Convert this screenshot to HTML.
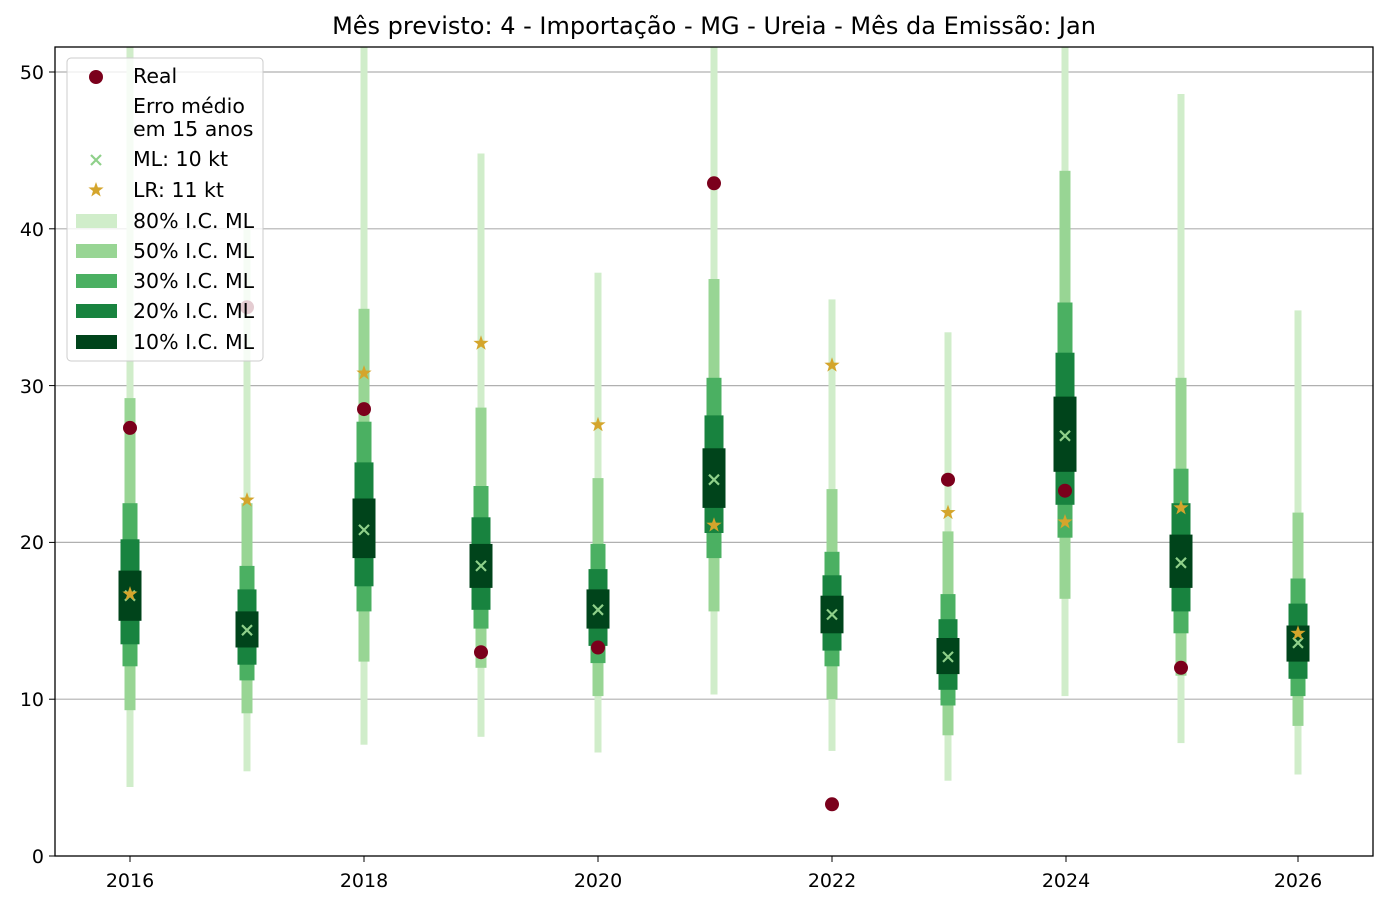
<!DOCTYPE html>
<html><head><meta charset="utf-8"><style>body{margin:0;background:#fff}svg{display:block;font-family:"DejaVu Sans","Liberation Sans",sans-serif}</style></head>
<body>
<svg width="1387" height="906" xmlns="http://www.w3.org/2000/svg">
<defs>
<clipPath id="c"><rect x="55" y="47" width="1318" height="809"/></clipPath>
<polygon id="st" points="0,-8 1.88,-2.59 7.61,-2.47 3.04,0.99 4.70,6.47 0,3.2 -4.70,6.47 -3.04,0.99 -7.61,-2.47 -1.88,-2.59" fill="#d4a52c"/>
<path id="mx" d="M-5,-5L5,5M-5,5L5,-5" stroke="#8fd08a" stroke-width="2.2" fill="none"/>
</defs>
<text x="714" y="34" font-size="24" text-anchor="middle">Mês previsto: 4 - Importação - MG - Ureia - Mês da Emissão: Jan</text>
<g stroke="#b0b0b0" stroke-width="1.2">
<line x1="55" x2="1373" y1="699.2" y2="699.2"/><line x1="55" x2="1373" y1="542.4" y2="542.4"/><line x1="55" x2="1373" y1="385.6" y2="385.6"/><line x1="55" x2="1373" y1="228.8" y2="228.8"/><line x1="55" x2="1373" y1="72" y2="72"/>
</g>
<g clip-path="url(#c)">
<rect x="126.5" y="47" width="7" height="740" fill="#d0edca"/>
<rect x="124.5" y="398.1" width="11" height="312.1" fill="#98d594"/>
<rect x="122.5" y="503.2" width="15" height="163.1" fill="#4bb062"/>
<rect x="120.5" y="539.3" width="19" height="105" fill="#18833f"/>
<rect x="118.5" y="570.6" width="23" height="50.2" fill="#00441b"/>
<rect x="243.5" y="228.8" width="7" height="542.5" fill="#d0edca"/>
<rect x="241.5" y="503.2" width="11" height="210.1" fill="#98d594"/>
<rect x="239.5" y="565.9" width="15" height="114.5" fill="#4bb062"/>
<rect x="237.5" y="589.4" width="19" height="75.3" fill="#18833f"/>
<rect x="235.5" y="611.4" width="23" height="36.1" fill="#00441b"/>
<rect x="360.5" y="47" width="7" height="697.7" fill="#d0edca"/>
<rect x="358.5" y="308.8" width="11" height="352.8" fill="#98d594"/>
<rect x="356.5" y="421.7" width="15" height="189.7" fill="#4bb062"/>
<rect x="354.5" y="462.4" width="19" height="123.9" fill="#18833f"/>
<rect x="352.5" y="498.5" width="23" height="59.6" fill="#00441b"/>
<rect x="477.5" y="153.5" width="7" height="583.3" fill="#d0edca"/>
<rect x="475.5" y="407.6" width="11" height="260.2" fill="#98d594"/>
<rect x="473.5" y="486" width="15" height="142.6" fill="#4bb062"/>
<rect x="471.5" y="517.3" width="19" height="92.5" fill="#18833f"/>
<rect x="469.5" y="543.9" width="23" height="44" fill="#00441b"/>
<rect x="594.5" y="272.7" width="7" height="479.8" fill="#d0edca"/>
<rect x="592.5" y="478.1" width="11" height="218" fill="#98d594"/>
<rect x="590.5" y="543.9" width="15" height="119.2" fill="#4bb062"/>
<rect x="588.5" y="569.1" width="19" height="76.8" fill="#18833f"/>
<rect x="586.5" y="589.4" width="23" height="39.2" fill="#00441b"/>
<rect x="710.5" y="47" width="7" height="647.5" fill="#d0edca"/>
<rect x="708.5" y="279" width="11" height="332.4" fill="#98d594"/>
<rect x="706.5" y="377.8" width="15" height="180.3" fill="#4bb062"/>
<rect x="704.5" y="415.4" width="19" height="117.6" fill="#18833f"/>
<rect x="702.5" y="448.3" width="23" height="59.6" fill="#00441b"/>
<rect x="828.5" y="299.4" width="7" height="451.5" fill="#d0edca"/>
<rect x="826.5" y="489.1" width="11" height="210.1" fill="#98d594"/>
<rect x="824.5" y="551.8" width="15" height="114.5" fill="#4bb062"/>
<rect x="822.5" y="575.3" width="19" height="75.3" fill="#18833f"/>
<rect x="820.5" y="595.7" width="23" height="37.6" fill="#00441b"/>
<rect x="944.5" y="332.3" width="7" height="448.4" fill="#d0edca"/>
<rect x="942.5" y="531.4" width="11" height="203.9" fill="#98d594"/>
<rect x="940.5" y="594.1" width="15" height="111.4" fill="#4bb062"/>
<rect x="938.5" y="619.2" width="19" height="70.6" fill="#18833f"/>
<rect x="936.5" y="638" width="23" height="36.1" fill="#00441b"/>
<rect x="1061.5" y="47" width="7" height="649.1" fill="#d0edca"/>
<rect x="1059.5" y="170.8" width="11" height="428" fill="#98d594"/>
<rect x="1057.5" y="302.5" width="15" height="235.2" fill="#4bb062"/>
<rect x="1055.5" y="352.7" width="19" height="152.1" fill="#18833f"/>
<rect x="1053.5" y="396.6" width="23" height="75.2" fill="#00441b"/>
<rect x="1177.5" y="94" width="7" height="649.1" fill="#d0edca"/>
<rect x="1175.5" y="377.8" width="11" height="297.9" fill="#98d594"/>
<rect x="1173.5" y="468.7" width="15" height="164.6" fill="#4bb062"/>
<rect x="1171.5" y="503.2" width="19" height="108.2" fill="#18833f"/>
<rect x="1169.5" y="534.6" width="23" height="53.3" fill="#00441b"/>
<rect x="1294.5" y="310.4" width="7" height="464.1" fill="#d0edca"/>
<rect x="1292.5" y="512.6" width="11" height="213.3" fill="#98d594"/>
<rect x="1290.5" y="578.5" width="15" height="117.6" fill="#4bb062"/>
<rect x="1288.5" y="603.6" width="19" height="75.2" fill="#18833f"/>
<rect x="1286.5" y="625.5" width="23" height="36.1" fill="#00441b"/>
<use href="#mx" transform="translate(130,595.7)"/>
<use href="#mx" transform="translate(247,630.2)"/>
<use href="#mx" transform="translate(364,529.9)"/>
<use href="#mx" transform="translate(481,565.9)"/>
<use href="#mx" transform="translate(598,609.8)"/>
<use href="#mx" transform="translate(714,479.7)"/>
<use href="#mx" transform="translate(832,614.5)"/>
<use href="#mx" transform="translate(948,656.9)"/>
<use href="#mx" transform="translate(1065,435.8)"/>
<use href="#mx" transform="translate(1181,562.8)"/>
<use href="#mx" transform="translate(1298,642.8)"/>
<use href="#st" transform="translate(130,594.1)"/>
<use href="#st" transform="translate(247,500.1)"/>
<use href="#st" transform="translate(364,373.1)"/>
<use href="#st" transform="translate(481,343.3)"/>
<use href="#st" transform="translate(598,424.8)"/>
<use href="#st" transform="translate(714,525.2)"/>
<use href="#st" transform="translate(832,365.2)"/>
<use href="#st" transform="translate(948,512.6)"/>
<use href="#st" transform="translate(1065,522)"/>
<use href="#st" transform="translate(1181,507.9)"/>
<use href="#st" transform="translate(1298,633.3)"/>
<g fill="#7b001c">
<circle cx="130" cy="427.9" r="7"/>
<circle cx="247" cy="307.2" r="7"/>
<circle cx="364" cy="409.1" r="7"/>
<circle cx="481" cy="652.2" r="7"/>
<circle cx="598" cy="647.5" r="7"/>
<circle cx="714" cy="183.3" r="7"/>
<circle cx="832" cy="804.3" r="7"/>
<circle cx="948" cy="479.7" r="7"/>
<circle cx="1065" cy="490.7" r="7"/>
<circle cx="1181" cy="667.8" r="7"/>
</g>
</g>
<rect x="55" y="47" width="1318" height="809" fill="none" stroke="#000" stroke-width="1.3"/>
<g font-size="19" text-anchor="end">
<text x="44" y="863">0</text><text x="44" y="706">10</text><text x="44" y="549">20</text><text x="44" y="393">30</text><text x="44" y="236">40</text><text x="44" y="79">50</text>
</g>
<g font-size="19" text-anchor="middle">
<text x="130" y="887">2016</text><text x="364" y="887">2018</text><text x="598" y="887">2020</text><text x="832" y="887">2022</text><text x="1066" y="887">2024</text><text x="1298" y="887">2026</text>
</g>
<g stroke="#000"><line x1="130" x2="130" y1="856" y2="862"/><line x1="364" x2="364" y1="856" y2="862"/><line x1="598" x2="598" y1="856" y2="862"/><line x1="832" x2="832" y1="856" y2="862"/><line x1="1066" x2="1066" y1="856" y2="862"/><line x1="1298" x2="1298" y1="856" y2="862"/>
<line x1="49" x2="55" y1="856" y2="856"/><line x1="49" x2="55" y1="699.2" y2="699.2"/><line x1="49" x2="55" y1="542.4" y2="542.4"/><line x1="49" x2="55" y1="385.6" y2="385.6"/><line x1="49" x2="55" y1="228.8" y2="228.8"/><line x1="49" x2="55" y1="72" y2="72"/></g>
<g>
<rect x="67" y="58" width="196" height="303" rx="4" fill="#fff" fill-opacity="0.8" stroke="#ccc"/>
<circle cx="96" cy="77" r="7" fill="#7b001c"/>
<use href="#mx" transform="translate(96,160)"/>
<use href="#st" transform="translate(96,190)"/>
<rect x="76" y="214" width="41" height="14" fill="#d0edca"/>
<rect x="76" y="244" width="41" height="14" fill="#98d594"/>
<rect x="76" y="274" width="41" height="14" fill="#4bb062"/>
<rect x="76" y="304" width="41" height="14" fill="#18833f"/>
<rect x="76" y="335" width="41" height="14" fill="#00441b"/>
<g font-size="20.5">
<text x="133" y="83">Real</text><text x="133" y="113">Erro médio</text><text x="133" y="136">em 15 anos</text>
<text x="133" y="166">ML: 10 kt</text><text x="133" y="197">LR: 11 kt</text>
<text x="133" y="228">80% I.C. ML</text><text x="133" y="258">50% I.C. ML</text><text x="133" y="288">30% I.C. ML</text><text x="133" y="318">20% I.C. ML</text><text x="133" y="349">10% I.C. ML</text>
</g></g>
</svg>
</body></html>
